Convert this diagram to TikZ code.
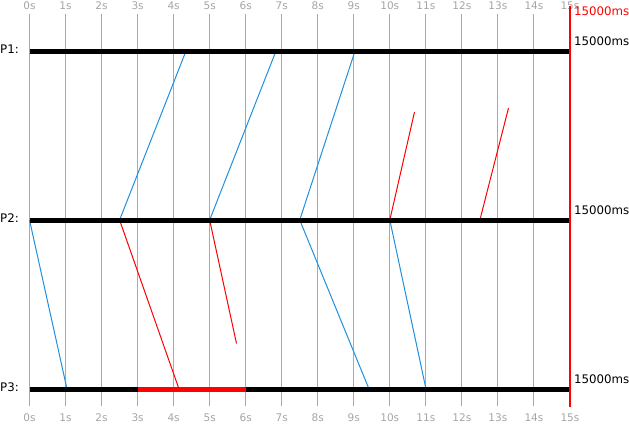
\documentclass[tikz,border=0pt]{standalone}
\usepackage{fontspec}
\setmainfont{DejaVu Sans}
\definecolor{gridgray}{RGB}{170,170,170}
\definecolor{labgray}{RGB}{165,165,165}
\definecolor{msgblue}{RGB}{30,144,225}
\definecolor{msgred}{RGB}{255,0,0}
\tikzset{
  gridline/.style={draw=gridgray, line width=1pt},
  timelab/.style={text=labgray, font=\fontsize{10.5}{12}\selectfont, inner sep=0pt},
  proclab/.style={text=black, font=\fontsize{11.8}{14}\selectfont, inner sep=0pt, anchor=west},
  mslab/.style={font=\fontsize{11.8}{14}\selectfont, inner sep=0pt, anchor=west},
  procline/.style={draw=black, line width=5pt},
  busyline/.style={draw=msgred, line width=5pt},
  bluemsg/.style={draw=msgblue, line width=1pt},
  redmsg/.style={draw=msgred, line width=1pt},
  endline/.style={draw=msgred, line width=2pt}
}
\newcommand{\tX}[1]{29.5+36.03*#1}
\begin{document}
\begin{tikzpicture}[x=1pt,y=-1pt]
\useasboundingbox (0,0) rectangle (629,423);
% grid
\foreach \i in {0,...,15} {
  \draw[gridline] ({\tX{\i}},13.5) -- ({\tX{\i}},406);
  \node[timelab] (top\i) at ({\tX{\i}},5.6) {\i s};
  \node[timelab] (bot\i) at ({\tX{\i}},417.3) {\i s};
}
% process coordinates
\coordinate (p1s) at ({\tX{0}},51);
\coordinate (p1e) at ({\tX{15}},51);
\coordinate (p2s) at ({\tX{0}},220);
\coordinate (p2e) at ({\tX{15}},220);
\coordinate (p3s) at ({\tX{0}},389);
\coordinate (p3e) at ({\tX{15}},389);
\coordinate (p3b1) at ({\tX{3}},389);
\coordinate (p3b2) at ({\tX{6}},389);
% events
\coordinate (e25) at ({\tX{2.5}},220);
\coordinate (e50) at ({\tX{5}},220);
\coordinate (e75) at ({\tX{7.5}},220);
\coordinate (e100) at ({\tX{10}},220);
\coordinate (e125) at ({\tX{12.5}},220);
\coordinate (a1) at (186,51);
\coordinate (a2) at (276,51);
\coordinate (a3) at (355,51);
\coordinate (b0) at (67,389);
\coordinate (b1) at (369,389);
\coordinate (b2) at (426,389);
\coordinate (r1) at (179,389);
\coordinate (r2) at (236.5,343.5);
\coordinate (r3) at (414.5,112);
\coordinate (r4) at (508.5,108);
% messages
\draw[bluemsg] (e25) -- (a1);
\draw[bluemsg] (e50) -- (a2);
\draw[bluemsg] (e75) -- (a3);
\draw[bluemsg] (p2s) -- (b0);
\draw[bluemsg] (e75) -- (b1);
\draw[bluemsg] (e100) -- (b2);
\draw[redmsg] (e25) -- (r1);
\draw[redmsg] (e50) -- (r2);
\draw[redmsg] (e100) -- (r3);
\draw[redmsg] (e125) -- (r4);
% process lines
\draw[procline] (p1s) -- (p1e);
\draw[procline] (p2s) -- (p2e);
\draw[procline] (p3s) -- (p3e);
\draw[busyline] (p3b1) -- (p3b2);
% end line
\coordinate (endtop) at ({\tX{15}},6);
\coordinate (endbot) at ({\tX{15}},407);
\draw[endline] (endtop) -- (endbot);
% labels
\node[proclab] (l1) at (0,49.5) {P1:};
\node[proclab] (l2) at (0,218.5) {P2:};
\node[proclab] (l3) at (0,387.5) {P3:};
\node[mslab, text=msgred] (m0) at (574,11.7) {15000ms};
\node[mslab] (m1) at (574,41.5) {15000ms};
\node[mslab] (m2) at (574,210) {15000ms};
\node[mslab] (m3) at (574,379) {15000ms};
\end{tikzpicture}
\end{document}
